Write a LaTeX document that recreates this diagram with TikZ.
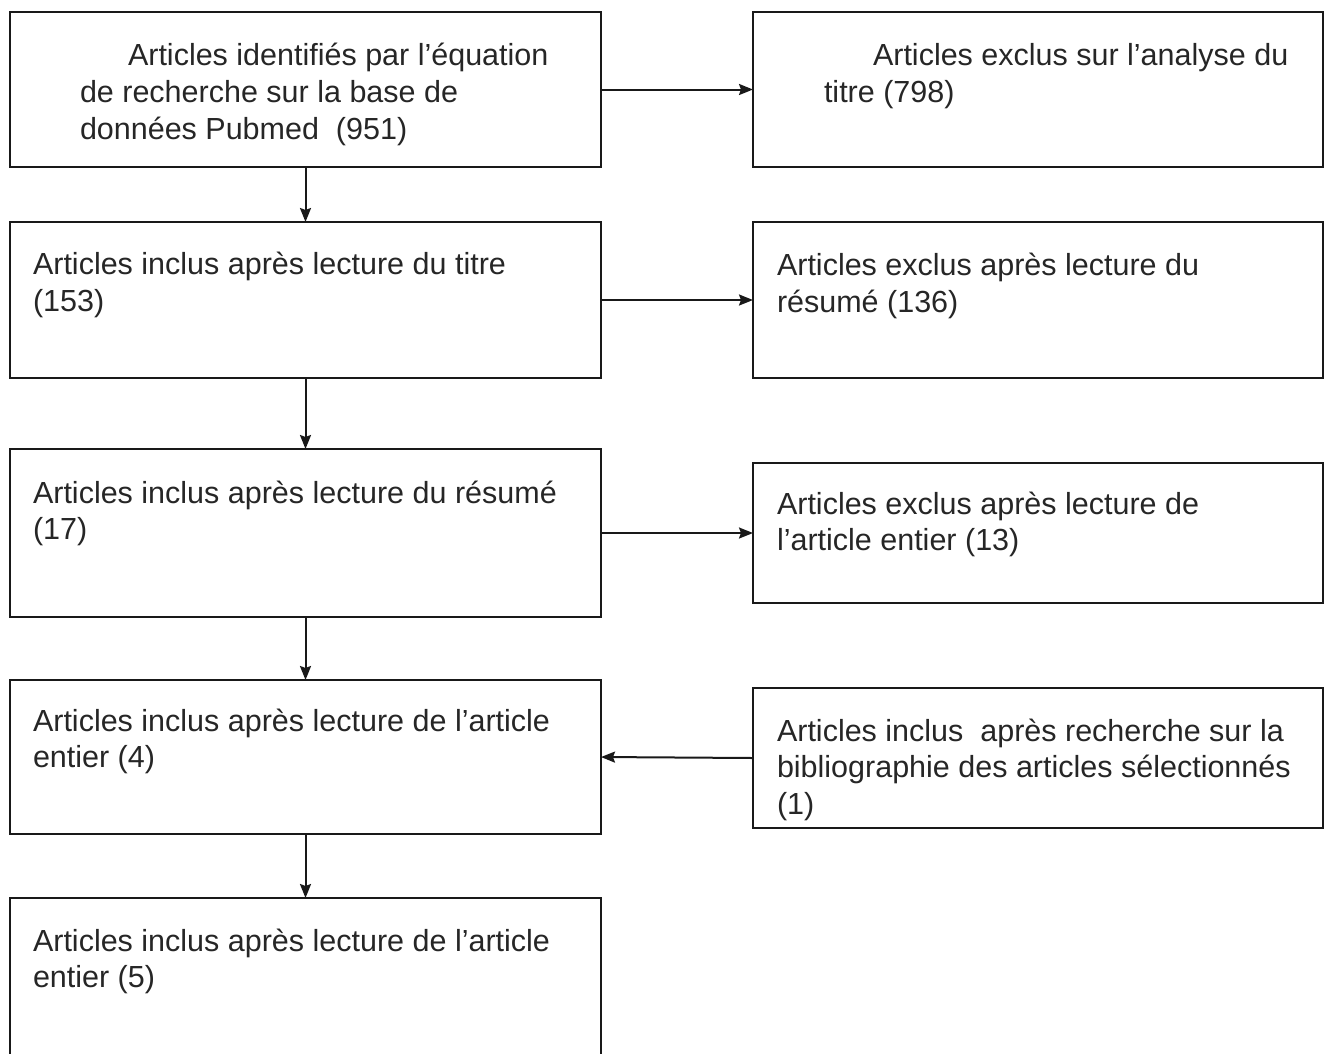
\documentclass[tikz,border=0pt]{standalone}
\usepackage{fontspec}
\setmainfont{Liberation Sans}
\usetikzlibrary{arrows.meta}
\tikzset{
  box/.style={draw=black!90, line width=2pt, inner sep=0pt, outer sep=0pt, rectangle},
  txt/.style={anchor=north west, inner sep=0pt, outer sep=0pt, align=left, text=black!85,
    font=\fontsize{30.5}{36.7}\selectfont},
  conn/.style={draw=black!90, line width=2pt, -{Stealth[length=14pt,width=11pt,inset=2pt]}}
}
\begin{document}
\begin{tikzpicture}[x=1pt,y=-1pt]
\useasboundingbox (0,0) rectangle (1324,1053);
\clip (0,0) rectangle (1324,1053);
% left column
\node[box, minimum width=591pt, minimum height=155pt] (b1) at (305.5,89.5) {};
\node[box, minimum width=591pt, minimum height=156pt] (b2) at (305.5,300) {};
\node[box, minimum width=591pt, minimum height=168pt] (b3) at (305.5,533) {};
\node[box, minimum width=591pt, minimum height=154pt] (b4) at (305.5,757) {};
\node[box, minimum width=591pt, minimum height=180pt] (b5) at (305.5,988) {};
% right column
\node[box, minimum width=570pt, minimum height=155pt] (r1) at (1038,89.5) {};
\node[box, minimum width=570pt, minimum height=156pt] (r2) at (1038,300) {};
\node[box, minimum width=570pt, minimum height=140pt] (r3) at (1038,533) {};
\node[box, minimum width=570pt, minimum height=140pt] (r4) at (1038,758) {};
% texts
\node[txt] (t1) at (80,40.3) {\strut\hspace*{48pt}Articles identifiés par l’équation\\de recherche sur la base de\\données Pubmed\ \ (951)};
\node[txt] (t2) at (33,249.3) {\strut Articles inclus après lecture du titre\\(153)};
\node[txt] (t3) at (33,477.3) {\strut Articles inclus après lecture du résumé\\(17)};
\node[txt] (t4) at (33,705.3) {\strut Articles inclus après lecture de l’article\\entier (4)};
\node[txt] (t5) at (33,925.3) {\strut Articles inclus après lecture de l’article\\entier (5)};
\node[txt] (s1) at (824,40.3) {\strut\hspace*{49pt}Articles exclus sur l’analyse du\\titre (798)};
\node[txt] (s2) at (777,250.3) {\strut Articles exclus après lecture du\\résumé (136)};
\node[txt] (s3) at (777,488.3) {\strut Articles exclus après lecture de\\l’article entier (13)};
\node[txt] (s4) at (777,715.3) {\strut Articles inclus\ \ après recherche sur la\\bibliographie des articles sélectionnés\\(1)};
% connectors
\draw[conn] (b1.south) -- (b2.north);
\draw[conn] (b2.south) -- (b3.north);
\draw[conn] (b3.south) -- (b4.north);
\draw[conn] (b4.south) -- (b5.north);
\draw[conn] (b1.east) -- (r1.west);
\draw[conn] (b2.east) -- (r2.west);
\draw[conn] (b3.east) -- (r3.west);
\draw[conn] (r4.west) -- (b4.east);
\end{tikzpicture}
\end{document}
